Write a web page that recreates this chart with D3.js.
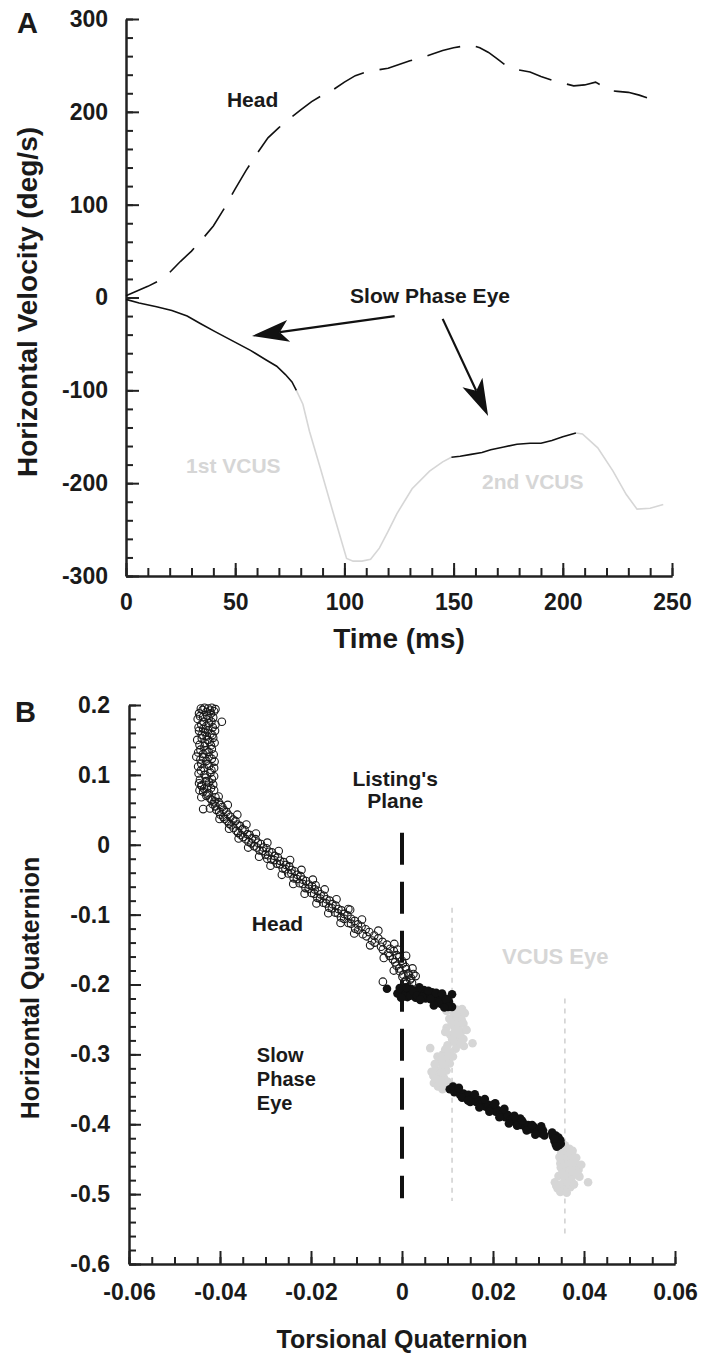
<!DOCTYPE html>
<html>
<head>
<meta charset="utf-8">
<script src="https://cdn.jsdelivr.net/npm/d3@7"></script>
<style>
  body { margin: 0; background: #fff; }
  svg text { font-family: "Liberation Sans", Arial, Helvetica, sans-serif; font-weight: bold; fill: #1a1a1a; }
  .axis path, .axis line { stroke: #222; stroke-width: 2px; }
</style>
</head>
<body>
<svg id="chart" width="702" height="1357"></svg>
<script>
// ---- panel A data: horizontal velocity (deg/s) vs time (ms)
const headVel = [[0,2],[5,7],[10,12],[15,18],[20,27],[25,39],[30,50],[35,63],[40,77],[45,96],[50,117],[55,137],[60,155],[65,172],[70,183],[75,193],[80,202],[85,211],[90,218],[95,224],[100,232],[105,239],[110,243],[115,245],[120,247],[125,251],[130,255],[135,258],[140,262],[145,266],[150,269],[155,271],[158,272],[162,269],[166,264],[170,257],[175,248],[180,245],[185,243],[190,238],[195,234],[200,231],[205,228],[210,229],[215,232],[218,228],[221,223],[225,222],[230,221],[235,218],[240,214],[243,212]];
const slowEye1 = [[0,-2],[6,-6],[14,-10],[21,-14],[28,-20],[34,-28],[41,-37],[49,-47],[57,-57],[64,-67],[69,-74],[73,-83],[76,-91],[78,-100]];
const vcusEye1 = [[78,-100],[81,-115],[84,-144],[89,-184],[95,-233],[101,-281],[104,-284],[108,-284],[112,-282],[116,-270],[120,-252],[124,-233],[131,-206],[139,-187],[145,-177],[149,-172]];
const slowEye2 = [[149,-172],[153,-171],[158,-169],[163,-167],[167,-164],[173,-161],[179,-158],[185,-157],[190,-157],[195,-154],[200,-150],[206,-146]];
const vcusEye2 = [[206,-146],[209,-147],[216,-162],[223,-187],[229,-212],[234,-228],[240,-227],[246,-223]];
const timeTicks = [0, 50, 100, 150, 200, 250];
const velTicks = [-300, -200, -100, 0, 100, 200, 300];
const arrowsA = [{from: [123, -20], to: [57.7, -41.5]}, {from: [145, -23], to: [165.8, -127.7]}];

// ---- panel B data: horizontal quaternion vs torsional quaternion
const headQ = [[-0.0442,0.195],[-0.0434,0.196],[-0.0426,0.195],[-0.0418,0.196],[-0.0446,0.188],[-0.0430,0.190],[-0.0420,0.188],[-0.0413,0.191],[-0.0449,0.180],[-0.0437,0.183],[-0.0425,0.181],[-0.0396,0.176],[-0.0419,0.176],[-0.0441,0.172],[-0.0430,0.170],[-0.0416,0.168],[-0.0446,0.163],[-0.0433,0.161],[-0.0421,0.159],[-0.0411,0.163],[-0.0440,0.152],[-0.0427,0.150],[-0.0415,0.153],[-0.0445,0.143],[-0.0434,0.141],[-0.0420,0.142],[-0.0412,0.146],[-0.0448,0.132],[-0.0437,0.130],[-0.0425,0.133],[-0.0414,0.129],[-0.0443,0.122],[-0.0430,0.120],[-0.0418,0.123],[-0.0448,0.112],[-0.0436,0.110],[-0.0424,0.113],[-0.0413,0.110],[-0.0447,0.102],[-0.0434,0.100],[-0.0421,0.103],[-0.0444,0.093],[-0.0431,0.091],[-0.0418,0.094],[-0.0441,0.085],[-0.0428,0.083],[-0.0415,0.086],[-0.0437,0.076],[-0.0425,0.074],[-0.0413,0.078],[-0.0437,0.051],[-0.0440,0.084],
  [-0.0438,0.193],[-0.0422,0.192],[-0.0410,0.194],[-0.0444,0.184],[-0.0428,0.185],[-0.0415,0.182],[-0.0436,0.176],[-0.0424,0.174],[-0.0410,0.172],[-0.0447,0.168],[-0.0437,0.166],[-0.0426,0.164],[-0.0440,0.157],[-0.0429,0.155],[-0.0417,0.157],[-0.0450,0.150],[-0.0433,0.146],[-0.0423,0.147],[-0.0443,0.136],[-0.0430,0.135],[-0.0418,0.137],[-0.0452,0.126],[-0.0437,0.125],[-0.0424,0.126],[-0.0412,0.119],[-0.0441,0.116],[-0.0428,0.115],[-0.0419,0.107],[-0.0442,0.106],[-0.0431,0.096],[-0.0413,0.098],[-0.0446,0.088],[-0.0424,0.089],[-0.0435,0.080],[-0.0420,0.081],[-0.0445,0.078],[-0.0430,0.070],[-0.0441,0.068],
  [-0.0421,0.066],[-0.0410,0.068],[-0.0416,0.058],[-0.0403,0.061],[-0.0408,0.050],[-0.0395,0.054],[-0.0399,0.043],[-0.0386,0.047],[-0.0390,0.037],[-0.0377,0.040],[-0.0380,0.030],[-0.0366,0.034],[-0.0370,0.024],[-0.0356,0.027],[-0.0360,0.017],[-0.0346,0.021],[-0.0349,0.011],[-0.0335,0.014],[-0.0337,0.004],[-0.0322,0.008],[-0.0325,-0.002],[-0.0310,0.001],[-0.0313,-0.008],[-0.0298,-0.005],[-0.0300,-0.014],[-0.0286,-0.011],[-0.0287,-0.021],[-0.0273,-0.018],[-0.0275,-0.027],[-0.0260,-0.025],[-0.0262,-0.034],[-0.0248,-0.031],[-0.0250,-0.041],[-0.0236,-0.038],[-0.0238,-0.048],[-0.0223,-0.045],[-0.0225,-0.055],[-0.0211,-0.052],[-0.0212,-0.062],[-0.0198,-0.059],[-0.0199,-0.069],[-0.0185,-0.066],[-0.0186,-0.076],[-0.0172,-0.073],[-0.0173,-0.083],[-0.0159,-0.080],[-0.0160,-0.090],[-0.0146,-0.087],[-0.0147,-0.097],[-0.0133,-0.094],[-0.0134,-0.104],[-0.0120,-0.101],[-0.0118,-0.112],[-0.0104,-0.109],[-0.0103,-0.120],[-0.0089,-0.117],[-0.0086,-0.128],[-0.0072,-0.125],[-0.0066,-0.137],[-0.0052,-0.134],[-0.0046,-0.146],[-0.0033,-0.143],[-0.0030,-0.155],[-0.0018,-0.152],[-0.0020,-0.164],[-0.0006,-0.161],[-0.0012,-0.173],[0.0002,-0.170],[-0.0005,-0.181],[0.0009,-0.178],[0.0001,-0.189],[0.0014,-0.186],[0.0006,-0.196],[0.0018,-0.193],[-0.0042,-0.196],[0.0010,-0.199],
  [-0.0412,0.062],[-0.0399,0.057],[-0.0392,0.050],[-0.0382,0.043],[-0.0371,0.036],[-0.0362,0.029],[-0.0351,0.022],[-0.0340,0.015],[-0.0330,0.009],[-0.0317,0.003],[-0.0305,-0.004],[-0.0292,-0.010],[-0.0280,-0.016],[-0.0268,-0.023],[-0.0255,-0.029],[-0.0243,-0.036],[-0.0230,-0.043],[-0.0218,-0.050],[-0.0205,-0.057],[-0.0192,-0.064],[-0.0179,-0.071],[-0.0166,-0.078],[-0.0153,-0.085],[-0.0140,-0.092],[-0.0127,-0.099],[-0.0112,-0.106],[-0.0097,-0.114],[-0.0080,-0.121],[-0.0061,-0.130],[-0.0043,-0.139],[-0.0026,-0.149],[-0.0012,-0.158],[0.0000,-0.166],[0.0008,-0.175],[0.0014,-0.184],[0.0020,-0.191],
  [-0.0428,0.072],[-0.0418,0.064],[-0.0410,0.055],[-0.0402,0.047],[-0.0393,0.040],[-0.0384,0.034],[-0.0375,0.028],[-0.0364,0.020],[-0.0354,0.014],[-0.0343,0.008],[-0.0331,0.002],[-0.0319,-0.004],[-0.0306,-0.009],[-0.0294,-0.015],[-0.0281,-0.022],[-0.0268,-0.028],[-0.0256,-0.035],[-0.0243,-0.041],[-0.0231,-0.049],[-0.0218,-0.056],[-0.0205,-0.063],[-0.0193,-0.070],[-0.0180,-0.077],[-0.0167,-0.084],[-0.0154,-0.091],[-0.0141,-0.098],[-0.0127,-0.106],[-0.0112,-0.113],[-0.0096,-0.122],[-0.0078,-0.131],[-0.0060,-0.140],[-0.0042,-0.150],[-0.0027,-0.159],[-0.0015,-0.168],[-0.0006,-0.177],[0.0003,-0.186],[0.0009,-0.194],
  [-0.0403,0.069],[-0.0383,0.057],[-0.0362,0.043],[-0.0342,0.029],[-0.0321,0.016],[-0.0296,0.003],[-0.0271,-0.009],[-0.0246,-0.022],[-0.0221,-0.036],[-0.0196,-0.050],[-0.0170,-0.064],[-0.0144,-0.078],[-0.0118,-0.092],[-0.0088,-0.107],[-0.0052,-0.123],[-0.0017,-0.142],[0.0009,-0.159],[0.0023,-0.177],[0.0030,-0.188],
  [-0.0422,0.052],[-0.0401,0.037],[-0.0380,0.023],[-0.0359,0.009],[-0.0338,-0.004],[-0.0314,-0.017],[-0.0289,-0.030],[-0.0264,-0.043],[-0.0239,-0.056],[-0.0214,-0.070],[-0.0188,-0.084],[-0.0162,-0.098],[-0.0135,-0.112],[-0.0105,-0.127],[-0.0070,-0.144],[-0.0040,-0.162],[-0.0018,-0.180],
  [-0.0296,-0.020],[-0.0190,-0.058],[-0.0114,-0.093],[-0.0010,-0.150],[0.0025,-0.185],[0.0022,-0.198]];
const slowEyeQ = [[-0.0033,-0.206],[-0.0010,-0.213],[0.0000,-0.209],[0.0008,-0.214],[0.0015,-0.208],[0.0020,-0.212],[0.0028,-0.215],[0.0012,-0.218],[0.0035,-0.210],[0.0042,-0.214],[0.0048,-0.208],[0.0055,-0.213],[0.0030,-0.219],[0.0060,-0.217],[0.0066,-0.211],[0.0072,-0.219],[0.0078,-0.215],[0.0084,-0.222],[0.0090,-0.218],[0.0095,-0.225],[0.0100,-0.228],[0.0106,-0.231],[0.0110,-0.214],[0.0092,-0.229],[0.0070,-0.224],[0.0052,-0.220],[0.0020,-0.206],[-0.0005,-0.205],[0.0038,-0.204],[0.0086,-0.228],[0.0103,-0.224],[0.0110,-0.232],
  [0.0005,-0.217],[0.0018,-0.216],[0.0025,-0.210],[0.0033,-0.216],[0.0045,-0.218],[0.0058,-0.209],[0.0063,-0.221],[0.0075,-0.212],[0.0081,-0.226],[0.0088,-0.213],[0.0097,-0.221],[0.0101,-0.232],[0.0093,-0.233],[-0.0002,-0.219],[0.0040,-0.222],[0.0010,-0.204],[0.0070,-0.230],
  [0.0105,-0.350],[0.0115,-0.354],[0.0122,-0.352],[0.0128,-0.358],[0.0135,-0.356],[0.0140,-0.361],[0.0146,-0.358],[0.0152,-0.364],[0.0158,-0.362],[0.0163,-0.368],[0.0168,-0.365],[0.0173,-0.371],[0.0178,-0.368],[0.0184,-0.375],[0.0190,-0.372],[0.0195,-0.378],[0.0200,-0.376],[0.0206,-0.382],[0.0211,-0.380],[0.0216,-0.386],[0.0222,-0.384],[0.0227,-0.390],[0.0233,-0.387],[0.0238,-0.394],[0.0244,-0.392],[0.0250,-0.397],[0.0255,-0.395],[0.0261,-0.401],[0.0266,-0.398],[0.0271,-0.404],[0.0277,-0.401],[0.0283,-0.407],[0.0290,-0.404],[0.0296,-0.410],[0.0302,-0.407],[0.0305,-0.413],[0.0310,-0.409],[0.0332,-0.418],[0.0338,-0.416],[0.0344,-0.419],[0.0335,-0.424],[0.0342,-0.426],[0.0348,-0.423],[0.0338,-0.429],[0.0345,-0.430],[0.0150,-0.368],[0.0205,-0.370],[0.0260,-0.392],
  [0.0112,-0.346],[0.0125,-0.348],[0.0132,-0.362],[0.0145,-0.366],[0.0160,-0.357],[0.0170,-0.376],[0.0182,-0.364],[0.0192,-0.382],[0.0203,-0.371],[0.0214,-0.390],[0.0225,-0.378],[0.0235,-0.399],[0.0247,-0.388],[0.0253,-0.402],[0.0264,-0.395],[0.0274,-0.409],[0.0286,-0.401],[0.0293,-0.415],[0.0306,-0.403],[0.0313,-0.416],[0.0330,-0.412],[0.0336,-0.421],[0.0349,-0.428],[0.0340,-0.432]];
const vcusEyeQ = [[0.0108,-0.234],[0.0120,-0.236],[0.0132,-0.235],[0.0114,-0.242],[0.0126,-0.244],[0.0104,-0.249],[0.0118,-0.251],[0.0131,-0.250],[0.0112,-0.258],[0.0124,-0.260],[0.0098,-0.262],[0.0117,-0.267],[0.0130,-0.268],[0.0106,-0.272],[0.0121,-0.276],[0.0135,-0.278],[0.0113,-0.282],[0.0127,-0.285],[0.0155,-0.284],[0.0100,-0.287],[0.0062,-0.291],[0.0118,-0.292],[0.0105,-0.297],[0.0090,-0.300],[0.0112,-0.303],[0.0097,-0.308],[0.0082,-0.311],[0.0105,-0.313],[0.0090,-0.318],[0.0074,-0.321],[0.0098,-0.323],[0.0083,-0.328],[0.0069,-0.331],[0.0092,-0.333],[0.0078,-0.337],[0.0100,-0.339],[0.0085,-0.343],[0.0112,-0.345],[0.0095,-0.348],
  [0.0098,-0.238],[0.0125,-0.238],[0.0138,-0.241],[0.0109,-0.255],[0.0135,-0.256],[0.0095,-0.268],[0.0126,-0.271],[0.0142,-0.265],[0.0110,-0.278],[0.0136,-0.288],[0.0095,-0.293],[0.0078,-0.303],[0.0099,-0.302],[0.0087,-0.306],[0.0072,-0.314],[0.0093,-0.316],[0.0065,-0.325],[0.0088,-0.326],[0.0073,-0.335],[0.0086,-0.338],[0.0070,-0.341],[0.0102,-0.343],[0.0079,-0.346],[0.0089,-0.350],
  [0.0345,-0.432],[0.0358,-0.430],[0.0368,-0.435],[0.0350,-0.440],[0.0362,-0.442],[0.0374,-0.444],[0.0356,-0.449],[0.0369,-0.451],[0.0380,-0.455],[0.0348,-0.456],[0.0362,-0.459],[0.0376,-0.462],[0.0388,-0.465],[0.0355,-0.466],[0.0368,-0.470],[0.0382,-0.472],[0.0344,-0.474],[0.0358,-0.477],[0.0372,-0.480],[0.0409,-0.483],[0.0336,-0.483],[0.0350,-0.486],[0.0364,-0.488],[0.0342,-0.492],[0.0356,-0.494],[0.0370,-0.490],
  [0.0352,-0.436],[0.0375,-0.438],[0.0383,-0.448],[0.0346,-0.447],[0.0372,-0.456],[0.0394,-0.458],[0.0349,-0.462],[0.0374,-0.467],[0.0390,-0.475],[0.0352,-0.470],[0.0365,-0.483],[0.0339,-0.488],[0.0378,-0.486],[0.0348,-0.497],[0.0362,-0.498]];
const torsTicks = [-0.06, -0.04, -0.02, 0, 0.02, 0.04, 0.06];
const horzTicks = [-0.6, -0.5, -0.4, -0.3, -0.2, -0.1, 0, 0.1, 0.2];
const listingLine = [0, 0.017, -0.506];
const vcusMarkers = [[0.011, -0.09, -0.51], [0.0358, -0.22, -0.56]];

const svg = d3.select("#chart");
const gray = "#d6d6d6";
const hyphen = f => d => f(d).replace("\u2212", "-");

// ================= Panel A =================
const xA = d3.scaleLinear().domain([0, 250]).range([126, 672]);
const yA = d3.scaleLinear().domain([-300, 300]).range([576, 19]);
const gA = svg.append("g");

// minor ticks first, then major with labels
gA.append("g").attr("class", "axis").attr("transform", "translate(0,576)")
  .call(d3.axisBottom(xA).tickValues(d3.range(0, 251, 10)).tickSizeInner(-8).tickSizeOuter(0).tickFormat(""));
gA.append("g").attr("class", "axis").attr("transform", "translate(126,0)")
  .call(d3.axisLeft(yA).tickValues(d3.range(-300, 301, 20)).tickSizeInner(-7).tickSizeOuter(0).tickFormat(""));
gA.append("g").attr("class", "axis").attr("transform", "translate(0,576)")
  .call(d3.axisBottom(xA).tickValues(timeTicks).tickSizeInner(-13).tickSizeOuter(0).tickPadding(18))
  .selectAll("text").style("font-size", "23px");
gA.append("g").attr("class", "axis").attr("transform", "translate(126,0)")
  .call(d3.axisLeft(yA).tickValues(velTicks).tickSizeInner(-13).tickSizeOuter(0).tickPadding(18)
    .tickFormat(hyphen(d3.format("d"))))
  .selectAll("text").style("font-size", "23px");
gA.selectAll(".axis text").attr("fill", "#1a1a1a");

const lineA = d3.line().x(d => xA(d[0])).y(d => yA(d[1]));

gA.append("path").datum(headVel).attr("d", lineA)
  .attr("fill", "none").attr("stroke", "#111").attr("stroke-width", 1.6)
  .attr("stroke-dasharray", "34,16");
[vcusEye1, vcusEye2].forEach(s => gA.append("path").datum(s).attr("d", lineA)
  .attr("fill", "none").attr("stroke", gray).attr("stroke-width", 1.6));
[slowEye1, slowEye2].forEach(s => gA.append("path").datum(s).attr("d", lineA)
  .attr("fill", "none").attr("stroke", "#111").attr("stroke-width", 1.6));

// arrows
arrowsA.forEach(a => {
  const x0 = xA(a.from[0]), y0 = yA(a.from[1]);
  const x1 = xA(a.to[0]), y1 = yA(a.to[1]);
  const len = Math.hypot(x1 - x0, y1 - y0);
  const ux = (x1 - x0) / len, uy = (y1 - y0) / len;
  const nx = -uy, ny = ux;
  const L = 37, W = 11, notch = 28;
  gA.append("line")
    .attr("x1", x0).attr("y1", y0)
    .attr("x2", x1 - ux * notch).attr("y2", y1 - uy * notch)
    .attr("stroke", "#111").attr("stroke-width", 2.2);
  const pts = [[x1, y1], [x1 - ux * L + nx * W, y1 - uy * L + ny * W],
    [x1 - ux * notch, y1 - uy * notch], [x1 - ux * L - nx * W, y1 - uy * L - ny * W]];
  gA.append("path").attr("d", "M" + pts.join("L") + "Z").attr("fill", "#111");
});

gA.append("text").attr("x", xA(46.2)).attr("y", yA(205)).style("font-size", "21px").text("Head");
gA.append("text").attr("x", xA(102.6)).attr("y", yA(-6)).style("font-size", "21px").text("Slow Phase Eye");
gA.append("text").attr("x", xA(27.5)).attr("y", yA(-189)).style("font-size", "21px").style("fill", gray).text("1st VCUS");
gA.append("text").attr("x", xA(163)).attr("y", yA(-206)).style("font-size", "21px").style("fill", gray).text("2nd VCUS");

gA.append("text").attr("x", 399).attr("y", 648).attr("text-anchor", "middle")
  .style("font-size", "28px").text("Time (ms)");
gA.append("text").attr("transform", "translate(37,302) rotate(-90)").attr("text-anchor", "middle")
  .style("font-size", "28px").text("Horizontal Velocity (deg/s)");
gA.append("text").attr("x", 17).attr("y", 33).style("font-size", "29px").text("A");

// ================= Panel B =================
const xB = d3.scaleLinear().domain([-0.06, 0.06]).range([129, 675]);
const yB = d3.scaleLinear().domain([-0.6, 0.2]).range([1264, 705]);
const gB = svg.append("g");

gB.append("g").attr("class", "axis").attr("transform", "translate(0,1264)")
  .call(d3.axisBottom(xB).tickValues(d3.range(-12, 13).map(i => i * 0.005)).tickSizeInner(-7).tickSizeOuter(0).tickFormat(""));
gB.append("g").attr("class", "axis").attr("transform", "translate(129,0)")
  .call(d3.axisLeft(yB).tickValues(d3.range(-30, 11).map(i => i * 0.02)).tickSizeInner(-7).tickSizeOuter(0).tickFormat(""));
gB.append("g").attr("class", "axis").attr("transform", "translate(0,1264)")
  .call(d3.axisBottom(xB).tickValues(torsTicks).tickSizeInner(-13).tickSizeOuter(0).tickPadding(20)
    .tickFormat(d => d === 0 ? "0" : hyphen(d3.format(".2f"))(d)))
  .selectAll("text").style("font-size", "23px");
gB.append("g").attr("class", "axis").attr("transform", "translate(129,0)")
  .call(d3.axisLeft(yB).tickValues(horzTicks).tickSizeInner(-12).tickSizeOuter(0).tickPadding(19)
    .tickFormat(d => d === 0 ? "0" : hyphen(d3.format(".1f"))(d)))
  .selectAll("text").style("font-size", "23px");
gB.selectAll(".axis text").attr("fill", "#1a1a1a");

// VCUS markers (light dashed verticals)
gB.selectAll(".vcus-mark").data(vcusMarkers).join("line")
  .attr("x1", d => xB(d[0])).attr("x2", d => xB(d[0]))
  .attr("y1", d => yB(d[1])).attr("y2", d => yB(d[2]))
  .attr("stroke", "#cfcfcf").attr("stroke-width", 1.5).attr("stroke-dasharray", "5,5");

// Listing's plane
gB.append("line")
  .attr("x1", xB(listingLine[0])).attr("x2", xB(listingLine[0]))
  .attr("y1", yB(listingLine[1])).attr("y2", yB(listingLine[2]))
  .attr("stroke", "#111").attr("stroke-width", 4).attr("stroke-dasharray", "32,17");

gB.append("g").selectAll("circle").data(vcusEyeQ).join("circle")
  .attr("cx", d => xB(d[0])).attr("cy", d => yB(d[1])).attr("r", 4.3)
  .attr("fill", gray);
gB.append("g").selectAll("circle").data(headQ).join("circle")
  .attr("cx", d => xB(d[0])).attr("cy", d => yB(d[1])).attr("r", 3.8)
  .attr("fill", "none").attr("stroke", "#1a1a1a").attr("stroke-width", 1.1);
gB.append("g").selectAll("circle").data(slowEyeQ).join("circle")
  .attr("cx", d => xB(d[0])).attr("cy", d => yB(d[1])).attr("r", 4.3)
  .attr("fill", "#111");

gB.append("text").attr("x", xB(-0.0015)).attr("y", yB(0.084)).attr("text-anchor", "middle")
  .style("font-size", "21px").text("Listing's");
gB.append("text").attr("x", xB(-0.0015)).attr("y", yB(0.053)).attr("text-anchor", "middle")
  .style("font-size", "21px").text("Plane");
gB.append("text").attr("x", xB(-0.033)).attr("y", yB(-0.124)).style("font-size", "21px").text("Head");
["Slow", "Phase", "Eye"].forEach((w, i) =>
  gB.append("text").attr("x", xB(-0.0319)).attr("y", yB(-0.311 - i * 0.034)).style("font-size", "20px").text(w));
gB.append("text").attr("x", xB(0.022)).attr("y", yB(-0.170)).style("font-size", "22px").style("fill", gray).text("VCUS Eye");

gB.append("text").attr("x", 402).attr("y", 1348).attr("text-anchor", "middle")
  .style("font-size", "25px").text("Torsional Quaternion");
gB.append("text").attr("transform", "translate(39,988) rotate(-90)").attr("text-anchor", "middle")
  .style("font-size", "25px").text("Horizontal Quaternion");
gB.append("text").attr("x", 15).attr("y", 722).style("font-size", "29px").text("B");
</script>
</body>
</html>
